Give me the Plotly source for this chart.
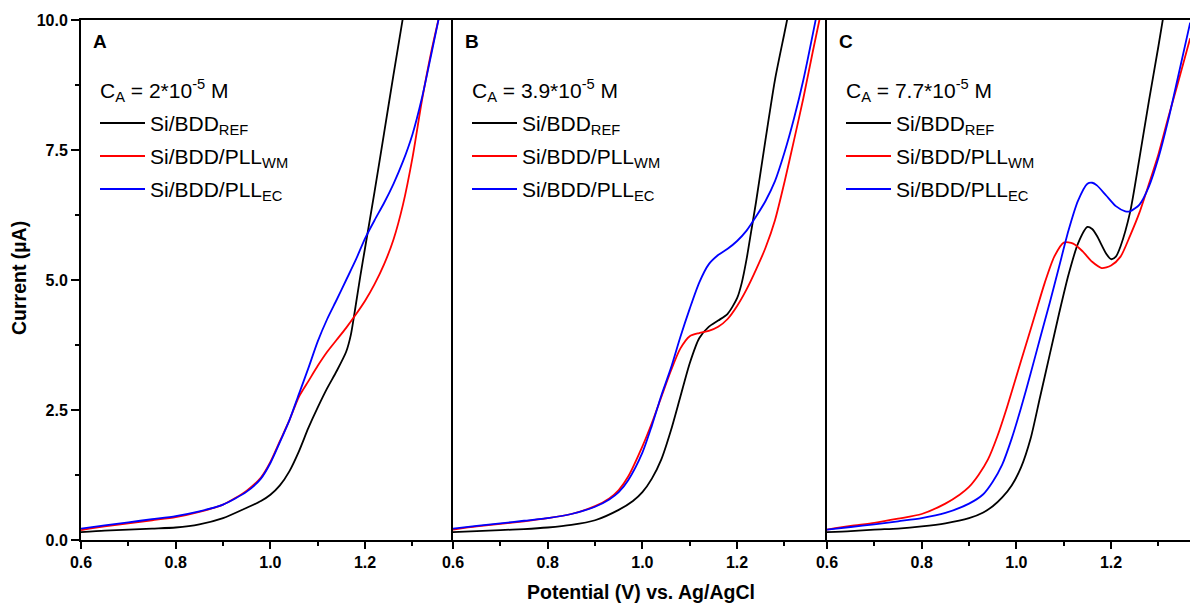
import plotly.graph_objects as go

# ---------------- data (Potential V, Current uA) ----------------
# Panel A : C_A = 2*10^-5 M
A_REF_V = [0.60,0.65,0.70,0.75,0.80,0.85,0.90,0.95,0.98,1.00,1.02,1.04,1.06,1.08,1.10,1.12,1.14,1.16,1.17,1.18,1.19,1.20,1.22,1.24,1.26,1.28]
A_REF_I = [0.15,0.18,0.20,0.22,0.24,0.30,0.42,0.62,0.75,0.87,1.05,1.32,1.70,2.15,2.55,2.92,3.25,3.62,3.95,4.50,5.08,5.62,6.70,7.82,8.95,10.05]
A_WM_V = [0.60,0.65,0.70,0.75,0.80,0.85,0.90,0.95,0.98,1.00,1.02,1.04,1.06,1.08,1.10,1.12,1.14,1.16,1.18,1.20,1.22,1.24,1.26,1.28,1.30,1.32,1.34,1.356]
A_WM_I = [0.19,0.26,0.32,0.38,0.44,0.54,0.68,0.95,1.20,1.50,1.90,2.30,2.75,3.05,3.35,3.62,3.85,4.08,4.33,4.60,4.92,5.30,5.78,6.45,7.35,8.45,9.40,10.05]
A_EC_V = [0.60,0.65,0.70,0.75,0.80,0.85,0.90,0.95,0.98,1.00,1.02,1.04,1.06,1.08,1.10,1.12,1.14,1.16,1.18,1.20,1.22,1.24,1.26,1.28,1.30,1.32,1.34,1.356]
A_EC_I = [0.22,0.28,0.34,0.40,0.46,0.55,0.68,0.93,1.18,1.48,1.88,2.30,2.80,3.30,3.82,4.25,4.62,5.00,5.38,5.80,6.15,6.48,6.85,7.28,7.80,8.50,9.35,10.05]

# Panel B : C_A = 3.9*10^-5 M
B_REF_V = [0.60,0.65,0.70,0.75,0.80,0.85,0.90,0.95,0.98,1.00,1.02,1.04,1.06,1.08,1.10,1.12,1.14,1.16,1.18,1.20,1.21,1.22,1.23,1.24,1.26,1.28,1.30,1.31]
B_REF_I = [0.15,0.17,0.19,0.21,0.24,0.29,0.38,0.58,0.75,0.92,1.18,1.55,2.10,2.75,3.40,3.88,4.10,4.22,4.35,4.65,4.95,5.40,5.95,6.50,7.70,8.85,9.75,10.20]
B_WM_V = [0.60,0.65,0.70,0.75,0.80,0.85,0.90,0.93,0.95,0.97,1.00,1.02,1.04,1.06,1.08,1.10,1.12,1.14,1.16,1.18,1.20,1.22,1.24,1.26,1.28,1.30,1.32,1.34,1.36,1.375]
B_WM_I = [0.20,0.26,0.31,0.36,0.42,0.50,0.65,0.80,0.96,1.22,1.80,2.25,2.75,3.25,3.68,3.92,3.98,4.02,4.10,4.25,4.50,4.82,5.20,5.62,6.15,6.88,7.68,8.50,9.40,10.05]
B_EC_V = [0.60,0.65,0.70,0.75,0.80,0.85,0.90,0.93,0.95,0.97,1.00,1.02,1.04,1.06,1.08,1.10,1.12,1.14,1.16,1.18,1.20,1.22,1.24,1.26,1.28,1.30,1.32,1.34,1.367]
B_EC_I = [0.22,0.27,0.32,0.37,0.42,0.50,0.64,0.78,0.92,1.15,1.68,2.20,2.78,3.30,3.90,4.45,4.95,5.30,5.48,5.60,5.75,5.95,6.22,6.52,6.90,7.45,8.10,8.85,10.05]

# Panel C : C_A = 7.7*10^-5 M
C_REF_V = [0.60,0.65,0.70,0.75,0.80,0.85,0.90,0.93,0.95,0.97,0.99,1.01,1.03,1.05,1.07,1.09,1.11,1.13,1.15,1.16,1.17,1.19,1.20,1.21,1.22,1.24,1.26,1.28,1.30,1.31]
C_REF_I = [0.15,0.17,0.20,0.22,0.26,0.32,0.42,0.53,0.65,0.82,1.05,1.40,1.95,2.75,3.55,4.35,5.10,5.70,6.02,5.98,5.85,5.50,5.40,5.45,5.65,6.30,7.35,8.45,9.50,10.05]
C_WM_V = [0.60,0.65,0.70,0.75,0.80,0.85,0.88,0.90,0.92,0.94,0.96,0.98,1.00,1.02,1.04,1.06,1.08,1.10,1.12,1.14,1.16,1.18,1.20,1.22,1.24,1.26,1.28,1.30,1.32,1.34,1.367]
C_WM_I = [0.20,0.27,0.33,0.41,0.50,0.70,0.87,1.02,1.25,1.55,2.00,2.55,3.15,3.75,4.35,4.95,5.45,5.72,5.70,5.55,5.35,5.23,5.28,5.45,5.85,6.30,6.85,7.42,8.10,8.75,9.65]
C_EC_V = [0.60,0.65,0.70,0.75,0.80,0.85,0.90,0.93,0.95,0.97,0.99,1.01,1.03,1.05,1.07,1.09,1.11,1.13,1.15,1.16,1.17,1.19,1.21,1.23,1.24,1.26,1.28,1.30,1.32,1.34,1.367]
C_EC_I = [0.20,0.25,0.30,0.36,0.42,0.52,0.70,0.88,1.12,1.45,1.95,2.55,3.20,3.88,4.55,5.25,5.95,6.52,6.85,6.87,6.82,6.62,6.42,6.32,6.32,6.45,6.80,7.35,8.05,8.85,9.95]

PANEL_LABELS = ["A", "B", "C"]
CONC_TEXT = ["2*10<sup>-5</sup> M", "3.9*10<sup>-5</sup> M", "7.7*10<sup>-5</sup> M"]
SERIES_NAMES = ["Si/BDD<sub>REF</sub>", "Si/BDD/PLL<sub>WM</sub>", "Si/BDD/PLL<sub>EC</sub>"]
SERIES_COLORS = ["#000000", "#ff0000", "#0000ff"]
X_TICKS = [0.6, 0.8, 1.0, 1.2]
X_MINOR = [0.7, 0.9, 1.1, 1.3]
Y_TICKS = [0.0, 2.5, 5.0, 7.5, 10.0]
Y_MINOR = [1.25, 3.75, 6.25, 8.75]

panels = [
    [(A_REF_V, A_REF_I), (A_WM_V, A_WM_I), (A_EC_V, A_EC_I)],
    [(B_REF_V, B_REF_I), (B_WM_V, B_WM_I), (B_EC_V, B_EC_I)],
    [(C_REF_V, C_REF_I), (C_WM_V, C_WM_I), (C_EC_V, C_EC_I)],
]

# ---------------- layout geometry (pixels) ----------------
W, H = 1190, 603
ML, MR, MT, MB = 81, 0, 20, 63
PW, PH = W - ML - MR, H - MT - MB
PX_PER_V = 473.5
panel_px = [(81, 453), (453, 827), (827, 1190)]

def xp(px):
    return (px - ML) / PW

def yp(py):
    return (MT + PH - py) / PH

FONT = "Arial, Liberation Sans, Helvetica, sans-serif"

fig = go.Figure()

for p, series in enumerate(panels):
    xa = "x" if p == 0 else f"x{p+1}"
    ya = "y" if p == 0 else f"y{p+1}"
    for (v, i), name, col in zip(series, SERIES_NAMES, SERIES_COLORS):
        fig.add_trace(go.Scatter(x=v, y=i, mode="lines", name=name, xaxis=xa, yaxis=ya,
                                 line=dict(color=col, width=1.8, shape="spline", smoothing=0.7),
                                 showlegend=False, hoverinfo="skip"))

layout = dict(width=W, height=H, margin=dict(l=ML, r=MR, t=MT, b=MB),
              paper_bgcolor="white", plot_bgcolor="white", showlegend=False,
              font=dict(family=FONT, color="black"))

for p, (l, r) in enumerate(panel_px):
    xkey = "xaxis" if p == 0 else f"xaxis{p+1}"
    ykey = "yaxis" if p == 0 else f"yaxis{p+1}"
    yname = "y" if p == 0 else f"y{p+1}"
    xname = "x" if p == 0 else f"x{p+1}"
    layout[xkey] = dict(
        domain=[xp(l), xp(r)], range=[0.6, 0.6 + (r - l) / PX_PER_V], anchor=yname,
        showline=True, linecolor="black", linewidth=2, mirror=True,
        showgrid=False, zeroline=False,
        tickmode="array", tickvals=X_TICKS, ticktext=[f"{t:.1f}" for t in X_TICKS],
        ticks="outside", ticklen=7, tickwidth=2, tickcolor="black",
        tickfont=dict(family=FONT, size=16, color="black", weight="bold"),
        minor=dict(tickmode="array", tickvals=X_MINOR, ticks="outside", ticklen=4,
                   tickwidth=2, tickcolor="black", showgrid=False),
        fixedrange=True,
    )
    ydict = dict(
        domain=[0, 1], range=[0, 10], anchor=xname,
        showline=True, linecolor="black", linewidth=2, mirror=False,
        showgrid=False, zeroline=False, fixedrange=True,
    )
    if p == 0:
        ydict.update(
            tickmode="array", tickvals=Y_TICKS, ticktext=[f"{t:.1f}" for t in Y_TICKS],
            ticks="outside", ticklen=8, tickwidth=2, tickcolor="black",
            tickfont=dict(family=FONT, size=16, color="black", weight="bold"),
            minor=dict(tickmode="array", tickvals=Y_MINOR, ticks="outside", ticklen=4,
                       tickwidth=2, tickcolor="black", showgrid=False),
        )
    else:
        ydict.update(showticklabels=False, ticks="")
    layout[ykey] = ydict

annotations = []
shapes = []
LEG_Y = [123, 156, 189]
for p, (l, r) in enumerate(panel_px):
    annotations.append(dict(text=f"<b>{PANEL_LABELS[p]}</b>", x=xp(l + 10), y=yp(42),
                            xref="paper", yref="paper", xanchor="left", yanchor="middle",
                            showarrow=False, font=dict(family=FONT, size=19, color="black")))
    annotations.append(dict(text=f"C<sub>A</sub> = {CONC_TEXT[p]}", x=xp(l + 17), y=yp(91),
                            xref="paper", yref="paper", xanchor="left", yanchor="middle",
                            showarrow=False, font=dict(family=FONT, size=21, color="black")))
    for k, (name, col) in enumerate(zip(SERIES_NAMES, SERIES_COLORS)):
        shapes.append(dict(type="line", xref="paper", yref="paper",
                           x0=xp(l + 19), x1=xp(l + 64), y0=yp(LEG_Y[k]), y1=yp(LEG_Y[k]),
                           line=dict(color=col, width=2)))
        annotations.append(dict(text=name, x=xp(l + 67), y=yp(LEG_Y[k] + 2),
                                xref="paper", yref="paper", xanchor="left", yanchor="middle",
                                showarrow=False, font=dict(family=FONT, size=21, color="black")))

annotations.append(dict(text="<b>Potential (V) vs. Ag/AgCl</b>", x=xp(641), y=yp(592),
                        xref="paper", yref="paper", xanchor="center", yanchor="middle",
                        showarrow=False, font=dict(family=FONT, size=19.5, color="black")))
annotations.append(dict(text="<b>Current (µA)</b>", x=xp(19), y=yp(278), textangle=-90,
                        xref="paper", yref="paper", xanchor="center", yanchor="middle",
                        showarrow=False, font=dict(family=FONT, size=19.5, color="black")))

layout["annotations"] = annotations
layout["shapes"] = shapes
fig.update_layout(**layout)
fig.write_html("out.html", config={"displayModeBar": False},
               post_script="document.body.style.margin='0';document.body.style.padding='0';")
